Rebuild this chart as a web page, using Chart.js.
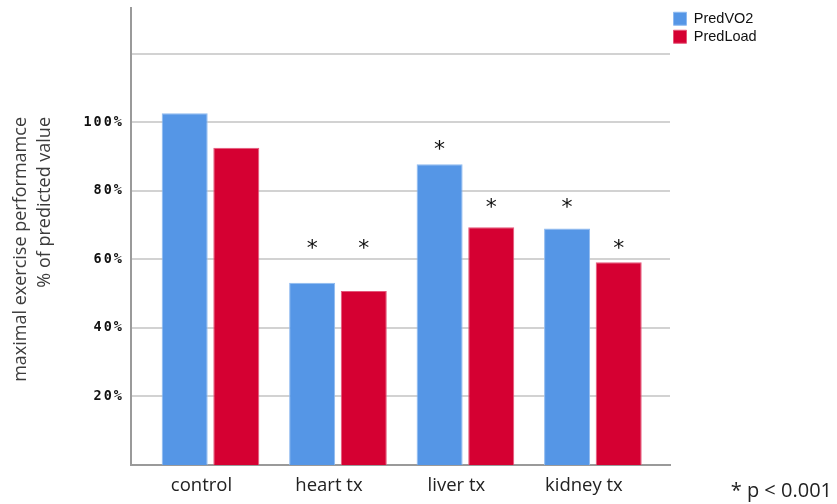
<!DOCTYPE html>
<html><head><meta charset="utf-8">
<script src="https://cdn.jsdelivr.net/npm/chart.js@4"></script>
<style>html,body{margin:0;padding:0;background:#fff;} #wrap{width:837px;height:504px;}</style>
</head><body><div id="wrap"><canvas id="c" width="837" height="504"></canvas></div>
<script>
const categories = ['control', 'heart tx', 'liver tx', 'kidney tx'];
const predVO2 = [102.7, 53.2, 87.8, 69.0];
const predLoad = [92.6, 50.8, 69.4, 59.2];
// significance marker heights (axis units), null = no marker
const markVO2 = [null, 64.4, 93.3, 76.4];
const markLoad = [null, 64.4, 76.4, 64.4];
const yTicks = [20, 40, 60, 80, 100, 120];
const yTitle = ['maximal exercise performamce', '% of predicted value'];
const footnote = '* p < 0.001';
const markText = '*';

const legendWidth = {
  id: 'legendWidth',
  afterInit(chart) {
    const lg = chart.legend;
    if (lg && !lg._fixedW) {
      const f = lg.fit.bind(lg);
      lg.fit = function () { f(); this.width = 167; };
      lg._fixedW = true;
    }
  }
};

const tickSpacing = {
  id: 'tickSpacing',
  beforeDraw(chart) {
    const s = chart.scales.y;
    if (s && !s._ls) {
      const orig = s.drawLabels.bind(s);
      s.drawLabels = function (a) {
        const ctx = this.ctx; ctx.save(); ctx.letterSpacing = '2px'; orig(a); ctx.restore();
      };
      s._ls = true;
    }
  }
};

const marks = {
  id: 'marks',
  afterDatasetsDraw(chart) {
    const ctx = chart.ctx; const ys = chart.scales.y;
    [markVO2, markLoad].forEach((arr, di) => {
      const meta = chart.getDatasetMeta(di);
      arr.forEach((v, i) => {
        if (v == null) return;
        const bar = meta.data[i];
        ctx.save();
        ctx.font = '22px "DejaVu Sans"';
        ctx.fillStyle = '#111';
        ctx.textAlign = 'center';
        ctx.textBaseline = 'alphabetic';
        const m = ctx.measureText(markText);
        const py = ys.getPixelForValue(v) + (m.actualBoundingBoxAscent - m.actualBoundingBoxDescent) / 2;
        ctx.fillText(markText, bar.x, py);
        ctx.restore();
      });
    });
  }
};

const texts = {
  id: 'texts',
  afterDraw(chart) {
    const ctx = chart.ctx;
    ctx.save();
    ctx.font = '18px "Open Sans"';
    ctx.fillStyle = '#3c3c3c';
    ctx.textAlign = 'right';
    ctx.textBaseline = 'alphabetic';
    const xs = [26, 50];
    yTitle.forEach((t, i) => {
      ctx.save();
      ctx.translate(xs[i], 117);
      ctx.rotate(-Math.PI / 2);
      ctx.fillText(t, 0, 0);
      ctx.restore();
    });
    ctx.font = '20px "Open Sans"';
    ctx.fillStyle = '#222';
    ctx.fillText(footnote, 832, 497);
    ctx.restore();
  }
};

new Chart(document.getElementById('c'), {
  type: 'bar',
  data: {
    datasets: [
      { label: 'PredVO2', data: predVO2.map((v, i) => ({ x: i, y: v })), backgroundColor: '#5596E6', borderColor: '#8FBAF0', borderWidth: 1, categoryPercentage: 0.81, barPercentage: 0.8915 },
      { label: 'PredLoad', data: predLoad.map((v, i) => ({ x: i, y: v })), backgroundColor: '#D50032', borderColor: '#E4577A', borderWidth: 1, categoryPercentage: 0.81, barPercentage: 0.8915 }
    ]
  },
  options: {
    responsive: false,
    animation: false,
    layout: { padding: { top: 8, left: 0, right: 0, bottom: 0 } },
    plugins: {
      legend: {
        position: 'right', align: 'start',
        labels: { boxWidth: 13, boxHeight: 13, padding: 3.5, color: '#111', font: { family: '"Liberation Sans", Arial, sans-serif', size: 14.5 } }
      },
      tooltip: { enabled: false }
    },
    scales: {
      x: {
        type: 'linear', min: -0.6237, max: 3.605, offset: false,
        grid: { display: false, drawTicks: false },
        border: { display: true, color: '#9a9a9a', width: 2 },
        afterBuildTicks: s => { s.ticks = categories.map((c, i) => ({ value: i })); },
        afterFit: s => { s.height = 39; s.paddingLeft = 0; s.paddingRight = 0; },
        ticks: { callback: v => categories[v], color: '#222', font: { family: '"Open Sans"', size: 18.5 }, padding: 10, labelOffset: -9, autoSkip: false, maxRotation: 0 }
      },
      y: {
        min: 0, max: 133.4,
        afterBuildTicks: s => { s.ticks = yTicks.map(v => ({ value: v })); },
        afterFit: s => { s.width = 131; s.paddingTop = 0; s.paddingBottom = 0; },
        grid: { color: '#d2d2d2', lineWidth: 2, drawTicks: false },
        border: { display: true, color: '#9a9a9a', width: 2 },
        ticks: { callback: v => (v <= 100 ? v + '%' : ''), color: '#111', font: { family: '"DejaVu Sans Mono"', size: 13.5, weight: 'bold' }, padding: 7 }
      }
    }
  },
  plugins: [legendWidth, tickSpacing, marks, texts]
});
</script>
</body></html>
